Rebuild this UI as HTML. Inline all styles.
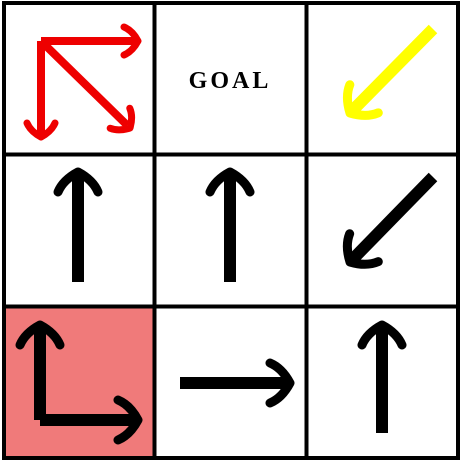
<!DOCTYPE html>
<html><head><meta charset="utf-8"><style>
html,body{margin:0;padding:0;background:#fff;width:461px;height:463px;overflow:hidden}
</style></head><body>
<svg id="g" width="461" height="463" viewBox="0 0 461 463">
<rect x="4" y="307" width="150" height="151" fill="#f07a7a"/>
<g stroke="#000" stroke-width="4" fill="none">
<rect x="4" y="3" width="454" height="455"/>
<line x1="154.5" y1="3" x2="154.5" y2="458"/>
<line x1="306.5" y1="3" x2="306.5" y2="458"/>
<line x1="4" y1="154.5" x2="458" y2="154.5"/>
<line x1="4" y1="306.5" x2="458" y2="306.5"/>
</g>
<text x="230" y="88" text-anchor="middle" font-family="Liberation Serif, serif" font-weight="bold" font-size="24" letter-spacing="3">GOAL</text>
<g id="arrows"></g>
</svg>
<script>
const arrowStarts=[[41,41],[41,41],[41,41],[433,29],[78,282],[230,282],[433,177],[40,420],[40,420],[180,383],[382,433]];
const arrowEnds=[[41,137],[138,41],[130,128],[350,113],[78,172],[230,172],[350,262],[40,325],[138,420],[290,383],[382,325]];
const arrowColors=["#e00","#e00","#e00","#ff0","#000","#000","#000","#000","#000","#000","#000"];
const arrowNames=["red-arrow-down","red-arrow-right","red-arrow-diag","yellow-arrow-diag","arrow-up-left","arrow-up-center","arrow-diag-right","arrow-up-start","arrow-right-start","arrow-right-bottom","arrow-up-bottom-right"];
const ns="http://www.w3.org/2000/svg";
const g=document.getElementById("arrows");
arrowStarts.forEach((s,i)=>{
  const e=arrowEnds[i];
  const red=arrowColors[i]==="#e00";
  const dx=e[0]-s[0],dy=e[1]-s[1];
  const L=Math.hypot(dx,dy);
  const ang=Math.atan2(dy,dx)*180/Math.PI;
  const sw=red?8:12, hl=red?14:20, hw=red?14:20;
  const grp=document.createElementNS(ns,"g");
  
  
  grp.setAttribute("transform",`translate(${s[0]},${s[1]}) rotate(${ang})`);
  grp.setAttribute("stroke",arrowColors[i]);
  grp.setAttribute("fill","none");
  const shaft=document.createElementNS(ns,"line");
  
  
  shaft.setAttribute("x1",0);shaft.setAttribute("y1",0);
  shaft.setAttribute("x2",L-4);shaft.setAttribute("y2",0);
  shaft.setAttribute("stroke-width",sw);
  grp.appendChild(shaft);
  const head=document.createElementNS(ns,"path");
  
  
  head.setAttribute("d",`M${L-hl},${-hw} Q${L-hl*0.4},${-hw*0.75} ${L},0 Q${L-hl*0.4},${hw*0.75} ${L-hl},${hw}`);
  head.setAttribute("stroke-width",red?7:9);
  head.setAttribute("stroke-linecap","round");
  head.setAttribute("stroke-linejoin","round");
  grp.appendChild(head);
  g.appendChild(grp);
});
</script>
</body></html>
